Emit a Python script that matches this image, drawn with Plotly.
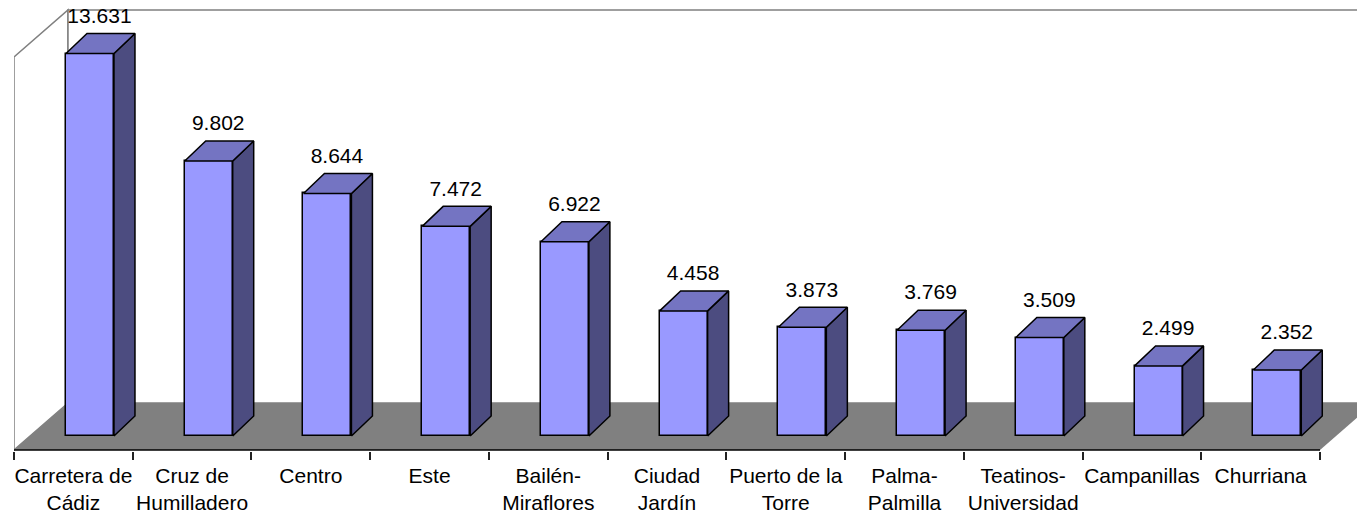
import plotly.graph_objects as go

# ---- data ----
categories = ["Carretera de<br>Cádiz", "Cruz de<br>Humilladero", "Centro", "Este",
              "Bailén-<br>Miraflores", "Ciudad<br>Jardín", "Puerto de la<br>Torre",
              "Palma-<br>Palmilla", "Teatinos-<br>Universidad", "Campanillas", "Churriana"]
values = [13631, 9802, 8644, 7472, 6922, 4458, 3873, 3769, 3509, 2499, 2352]

# ---- geometry (pseudo-3D styling) ----
W, H = 1357, 519
ML, MR, MT, MB = 14, 0, 0, 68
PX_PER_CAT = 118.73
PX_PER_UNIT = 0.02806
ZERO_PX = 436  # pixel row of value 0

n = len(values)
bar_off, bar_w = 0.438, 0.404
ddx, ddy = 21 / PX_PER_CAT, 20 / PX_PER_UNIT          # bar depth
fdx, fdy = 54 / PX_PER_CAT, 47 / PX_PER_UNIT          # floor depth
floor_front = -(450 - ZERO_PX) / PX_PER_UNIT
wall_top = (ZERO_PX - 57) / PX_PER_UNIT
label_gap = 16 / PX_PER_UNIT

x_max = (W - ML - MR) / PX_PER_CAT
y_min = -(H - MB - ZERO_PX) / PX_PER_UNIT
y_max = (ZERO_PX - MT) / PX_PER_UNIT

FRONT, TOP, SIDE = "#9999FF", "#7474C2", "#4C4C80"
GRAY = "#808080"
FONT = "Liberation Sans, Arial, sans-serif"

def fmt(v):
    return f"{v:,}".replace(",", ".")

fig = go.Figure()

# front faces
fig.add_trace(go.Bar(
    x=[i + bar_off + bar_w / 2 for i in range(n)], y=values, width=bar_w,
    marker=dict(color=FRONT, line=dict(color="black", width=1.5)),
    hoverinfo="skip", showlegend=False))

# side faces
sx, sy = [], []
for i, v in enumerate(values):
    x1 = i + bar_off + bar_w
    sx += [x1, x1, x1 + ddx, x1 + ddx, x1, None]
    sy += [0, v, v + ddy, ddy, 0, None]
fig.add_trace(go.Scatter(x=sx, y=sy, mode="lines", fill="toself", fillcolor=SIDE,
                         line=dict(color="black", width=1.5), hoverinfo="skip",
                         showlegend=False))

# top faces
tx, ty = [], []
for i, v in enumerate(values):
    x0 = i + bar_off
    x1 = x0 + bar_w
    tx += [x0, x0 + ddx, x1 + ddx, x1, x0, None]
    ty += [v, v + ddy, v + ddy, v, v, None]
fig.add_trace(go.Scatter(x=tx, y=ty, mode="lines", fill="toself", fillcolor=TOP,
                         line=dict(color="black", width=1.5), hoverinfo="skip",
                         showlegend=False))

# value labels
fig.add_trace(go.Scatter(
    x=[i + 0.72 for i in range(n)], y=[v + ddy + label_gap for v in values],
    mode="text", text=[fmt(v) for v in values],
    textfont=dict(family=FONT, size=21, color="black"), textposition="middle center",
    cliponaxis=False, hoverinfo="skip", showlegend=False))

def path(pts):
    return "M " + " L ".join(f"{x},{y}" for x, y in pts) + " Z"

shapes = [
    # left wall
    dict(type="path", xref="x", yref="y", layer="below",
         path=path([(0, floor_front), (0, wall_top), (fdx, wall_top + fdy), (fdx, floor_front + fdy)]),
         fillcolor="white", line=dict(color=GRAY, width=1.5)),
    # back wall
    dict(type="path", xref="x", yref="y", layer="below",
         path=path([(fdx, floor_front + fdy), (fdx, wall_top + fdy), (n + fdx, wall_top + fdy), (n + fdx, floor_front + fdy)]),
         fillcolor="white", line=dict(color=GRAY, width=1.5)),
    # floor
    dict(type="path", xref="x", yref="y", layer="below",
         path=path([(0, floor_front), (n, floor_front), (n + fdx, floor_front + fdy), (fdx, floor_front + fdy)]),
         fillcolor=GRAY, line=dict(width=0)),
    # category axis line
    dict(type="line", xref="x", yref="y", layer="above",
         x0=0, x1=n, y0=floor_front, y1=floor_front, line=dict(color="black", width=1.5)),
]

fig.update_layout(
    width=W, height=H, margin=dict(l=ML, r=MR, t=MT, b=MB),
    paper_bgcolor="white", plot_bgcolor="white", showlegend=False,
    shapes=shapes, bargap=0,
    font=dict(family=FONT, size=21, color="black"),
    xaxis=dict(range=[0, x_max], showgrid=False, zeroline=False, showline=False,
               tickmode="array", tickvals=[i + 0.5 for i in range(n)], ticktext=categories,
               ticks="", ticklabelstandoff=10,
               tickfont=dict(family=FONT, size=21, color="black"),
               minor=dict(tickmode="array", tickvals=list(range(n + 1)), ticks="outside",
                          ticklen=8, tickwidth=1.5, tickcolor="#222", showgrid=False),
               fixedrange=True),
    yaxis=dict(range=[y_min, y_max], visible=False, fixedrange=True),
)

fig.write_html("out.html", config={"displayModeBar": False},
               post_script="document.body.style.margin='0px';document.body.style.overflow='hidden';")
